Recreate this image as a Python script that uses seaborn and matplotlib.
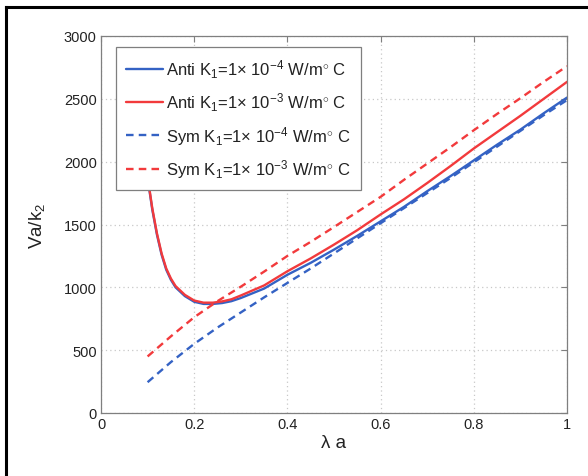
import numpy as np
import pandas as pd
import matplotlib
matplotlib.use("Agg")
import matplotlib.pyplot as plt
import seaborn as sns
from matplotlib.lines import Line2D

# ---- data ----
x_anti = [0.10, 0.11, 0.12, 0.13, 0.14, 0.15, 0.16, 0.18, 0.20, 0.22, 0.24, 0.26, 0.28, 0.30,
          0.35, 0.40, 0.45, 0.50, 0.55, 0.60, 0.65, 0.70, 0.75, 0.80, 0.85, 0.90, 0.95, 1.00]
anti_k4 = [1870, 1620, 1420, 1260, 1140, 1060, 1000, 930, 885, 868, 868, 875, 890, 915,
           990, 1100, 1195, 1300, 1410, 1525, 1640, 1765, 1885, 2010, 2135, 2255, 2385, 2510]
anti_k3 = [1880, 1630, 1430, 1270, 1150, 1070, 1010, 940, 895, 878, 878, 888, 905, 935,
           1015, 1128, 1230, 1340, 1455, 1580, 1700, 1830, 1965, 2105, 2235, 2365, 2500, 2635]

x_sym = [0.10, 0.15, 0.20, 0.25, 0.30, 0.35, 0.40, 0.45, 0.50, 0.55,
         0.60, 0.65, 0.70, 0.75, 0.80, 0.85, 0.90, 0.95, 1.00]
sym_k4 = [245, 405, 550, 680, 800, 920, 1035, 1150, 1270, 1390,
          1510, 1630, 1750, 1870, 1995, 2120, 2245, 2370, 2490]
sym_k3 = [450, 610, 762, 890, 1005, 1125, 1250, 1362, 1480, 1600,
          1720, 1855, 1985, 2115, 2250, 2380, 2505, 2635, 2760]

labels = [r"Anti K$_1$=1× 10$^{-4}$ W/m$^{\circ}$ C",
          r"Anti K$_1$=1× 10$^{-3}$ W/m$^{\circ}$ C",
          r"Sym K$_1$=1× 10$^{-4}$ W/m$^{\circ}$ C",
          r"Sym K$_1$=1× 10$^{-3}$ W/m$^{\circ}$ C"]
xticks = [0, 0.2, 0.4, 0.6, 0.8, 1]
xticklabels = ["0", "0.2", "0.4", "0.6", "0.8", "1"]
yticks = [0, 500, 1000, 1500, 2000, 2500, 3000]

# ---- style ----
sns.set_theme(style="white")
plt.rcParams["font.family"] = ["Liberation Sans", "DejaVu Sans"]
plt.rcParams["mathtext.fontset"] = "custom"
plt.rcParams["mathtext.rm"] = "Liberation Sans"
plt.rcParams["mathtext.it"] = "Liberation Sans"
plt.rcParams["mathtext.bf"] = "Liberation Sans:bold"

BLUE = "#3462c4"
RED = "#f23a3c"
GRAY = "#7f7f7f"

fig = plt.figure(figsize=(5.88, 4.77), dpi=100)
ax = fig.add_axes([101/588, 1-414/477, 466/588, 377/477])

series = [(x_anti, anti_k4, BLUE, "-"), (x_anti, anti_k3, RED, "-"),
          (x_sym, sym_k4, BLUE, (0, (3.2, 2.2))), (x_sym, sym_k3, RED, (0, (3.2, 2.2)))]
for (xs, ys, c, ls), lab in zip(series, labels):
    df = pd.DataFrame({"x": xs, "y": ys})
    sns.lineplot(data=df, x="x", y="y", ax=ax, color=c, lw=1.7, linestyle=ls,
                 label=lab, legend=False, sort=False, estimator=None)

ax.set_xlim(0, 1)
ax.set_ylim(0, 3000)
ax.set_xticks(xticks)
ax.set_xticklabels(xticklabels)
ax.set_yticks(yticks)
ax.grid(True, color="#c8c8c8", linestyle=(0, (1, 2.5)), linewidth=0.9)
for s in ax.spines.values():
    s.set_color(GRAY)
    s.set_linewidth(0.9)
ax.tick_params(direction="in", length=4, width=0.8, color=GRAY, top=True, right=True,
               labelsize=10.5, labelcolor="#222222", pad=3)
ax.set_xlabel("λ a", fontsize=13.5, color="#222222", labelpad=2)
ax.set_ylabel("Va/k$_2$", fontsize=13.5, color="#222222", labelpad=12)

handles = [Line2D([], [], color=c, lw=1.7, linestyle=ls) for (_, _, c, ls) in series]
leg = ax.legend(handles, labels, loc="upper left", bbox_to_anchor=(0.033, 0.97),
                fontsize=12, frameon=True, fancybox=False, edgecolor=GRAY,
                framealpha=1, handlelength=2.2, handletextpad=0.2,
                labelspacing=0.64, borderpad=0.6, borderaxespad=0)
leg.get_frame().set_linewidth(0.9)
for t in leg.get_texts():
    t.set_color("#222222")

# black frame on left and top (cropped framed figure)
fig.add_artist(Line2D([6/588, 6/588], [0, 1-8/477], transform=fig.transFigure,
                      color="black", lw=2.2, solid_capstyle="projecting"))
fig.add_artist(Line2D([6/588, 1], [1-8/477, 1-8/477], transform=fig.transFigure,
                      color="black", lw=2.2, solid_capstyle="projecting"))

fig.savefig("out.png", dpi=100, facecolor="white")
